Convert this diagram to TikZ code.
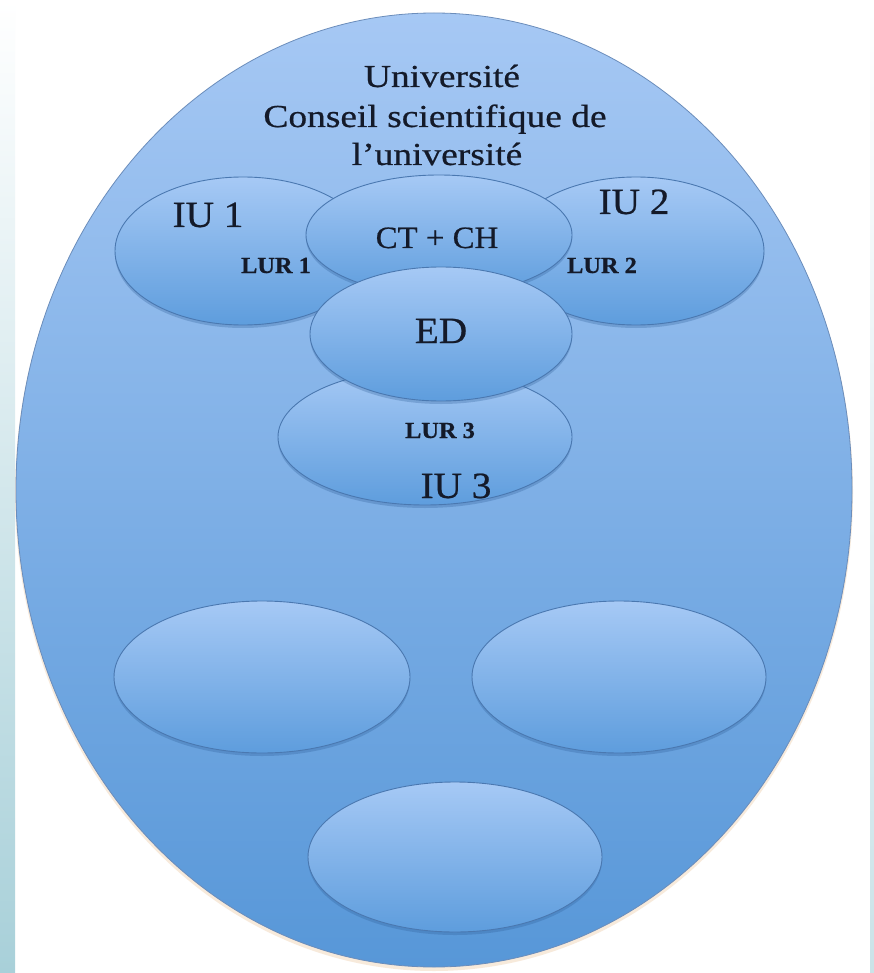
\documentclass[tikz,border=0pt]{standalone}
\usepackage{fontspec}
\setmainfont{Liberation Serif}
\newfontfamily\titlefont[FakeStretch=1.17,FakeBold=0.6]{Liberation Serif}
\newfontfamily\labfont[FakeStretch=1.06,FakeBold=0.6]{Liberation Serif}
\usetikzlibrary{shapes.geometric,shadows}
\definecolor{bigtop}{HTML}{A6C8F4}
\definecolor{bigbot}{HTML}{5797D8}
\definecolor{bigline}{HTML}{6B8DBB}
\definecolor{bubtop}{HTML}{A6C9F5}
\definecolor{bubbot}{HTML}{5E9DDD}
\definecolor{bubline}{HTML}{4A78B0}
\definecolor{bubshade}{HTML}{2F5F99}
\definecolor{txt}{HTML}{141A29}
\definecolor{stripbot}{HTML}{A8D0D9}
\definecolor{glow}{HTML}{F3DCC4}
\begin{document}
\begin{tikzpicture}[x=1pt,y=-1pt,
  bub/.style={ellipse, inner sep=0pt, draw=bubline, line width=0.9pt,
    top color=bubtop, bottom color=bubbot,
    drop shadow={shadow xshift=0pt, shadow yshift=-3pt, opacity=0.3, fill=bubshade}},
  lab/.style={text=txt, anchor=base, inner sep=0pt},
  big/.style={font=\labfont\fontsize{37}{40}\selectfont},
  small/.style={font=\labfont\bfseries\fontsize{23}{26}\selectfont},
  ttl/.style={font=\titlefont\fontsize{32}{36}\selectfont},
]
\useasboundingbox (0,0) rectangle (874,973);
\fill[white] (0,0) rectangle (874,973);
\shade[top color=white, bottom color=stripbot] (0,0) rectangle (15,973);
\shade[top color=white, bottom color=stripbot!60] (870,0) rectangle (874,973);

% outer university ellipse
\fill[glow, opacity=0.6] (434,493) ellipse [x radius=419, y radius=478];
\node[ellipse, inner sep=0pt, minimum width=836pt, minimum height=954pt,
  top color=bigtop, bottom color=bigbot, draw=bigline, line width=0.8pt] (uni) at (434,490) {};

% bubbles
\node[bub, minimum width=294pt, minimum height=136pt] (iu3) at (425,437) {};
\node[bub, minimum width=256pt, minimum height=148pt] (iu1) at (243,251) {};
\node[bub, minimum width=256pt, minimum height=148pt] (iu2) at (636,251) {};
\node[bub, minimum width=266pt, minimum height=120pt] (ct) at (439,235) {};
\node[bub, minimum width=262pt, minimum height=134pt] (ed) at (441,334) {};
\node[bub, minimum width=296pt, minimum height=152pt] (b1) at (262,677) {};
\node[bub, minimum width=294pt, minimum height=152pt] (b2) at (619,677) {};
\node[bub, minimum width=294pt, minimum height=150pt] (b3) at (455,857) {};

% title
\node[lab, ttl] (t1) at (442,87) {Université};
\node[lab, ttl] (t2) at (435,127) {Conseil scientifique de};
\node[lab, ttl] (t3) at (437,165) {l’université};

% labels
\node[lab, big] (liu1) at (208,227) {IU 1};
\node[lab, big] (liu2) at (634,214) {IU 2};
\node[lab, big] (liu3) at (456,498) {IU 3};
\node[lab, font=\labfont\fontsize{31}{34}\selectfont] (lct) at (437,248) {CT + CH};
\node[lab, big] (led) at (441,343) {ED};
\node[lab, small] (llur1) at (276,273) {LUR 1};
\node[lab, small] (llur2) at (602,273) {LUR 2};
\node[lab, small] (llur3) at (440,438) {LUR 3};
\end{tikzpicture}
\end{document}
